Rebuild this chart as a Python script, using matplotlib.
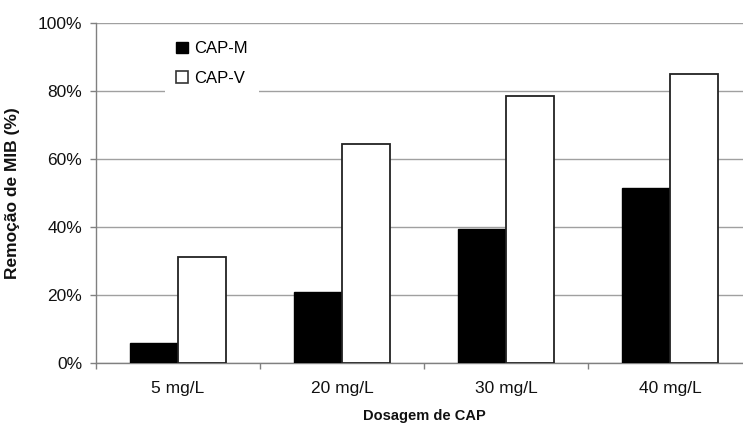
import matplotlib
matplotlib.use("Agg")
import matplotlib.pyplot as plt
from matplotlib.patches import Patch
import numpy as np

plt.rcParams['font.family'] = ['Liberation Sans', 'DejaVu Sans']

doses = ['5 mg/L', '20 mg/L', '30 mg/L', '40 mg/L']
cap_m = [5.7, 20.7, 39.4, 51.3]
cap_v = [31.0, 64.4, 78.6, 85.0]
series = ['CAP-M', 'CAP-V']
yticks = [0, 20, 40, 60, 80, 100]

fig = plt.figure(figsize=(7.43, 4.23), dpi=100)
# right edge of the plot runs just past the picture, as in the original
ax = fig.add_axes([96/743, 1 - 362.7/423, 656/743, 339.7/423])

x = np.arange(len(doses))
w = 0.293
ax.bar(x - w/2, cap_m, w, color='black', edgecolor='black', linewidth=1.0, zorder=3)
ax.bar(x + w/2, cap_v, w, color='white', edgecolor='#222222', linewidth=1.3, zorder=3)

ax.set_xlim(-0.5, len(doses) - 0.5)
ax.set_ylim(0, 100)
ax.set_yticks(yticks)
ax.set_yticklabels([f'{t}%' for t in yticks])
ax.yaxis.grid(True, color='#a0a0a0', linewidth=1.0, zorder=0)
ax.set_axisbelow(True)

ax.set_xticks(x)
ax.set_xticklabels(doses)
ax.set_xticks(np.arange(len(doses) + 1) - 0.5, minor=True)
ax.tick_params(axis='x', which='major', length=0, pad=13, labelsize=12.5, colors='#111111')
ax.tick_params(axis='x', which='minor', length=4, width=1, color='#808080', direction='out')
ax.tick_params(axis='y', length=4, width=1, color='#808080', pad=6, labelsize=12.5, labelcolor='#111111')

for s in ['top', 'right']:
    ax.spines[s].set_visible(False)
for s in ['left', 'bottom']:
    ax.spines[s].set_color('#808080')
    ax.spines[s].set_linewidth(1.0)

ax.set_ylabel('Remoção de MIB (%)', fontsize=12.5, fontweight='bold', color='#111111')
ax.yaxis.set_label_coords(-0.116, 0.5)
ax.set_xlabel('Dosagem de CAP', fontsize=10.5, fontweight='bold', color='#111111')
ax.xaxis.set_label_coords(0.5, -0.157)
ax.xaxis.label.set_va('center')

handles = [Patch(facecolor='black', edgecolor='black'),
           Patch(facecolor='white', edgecolor='#333333', linewidth=1.2)]
leg = ax.legend(handles, series, loc='upper left',
                bbox_to_anchor=((165 - 96) / 656, (362.7 - 30) / 339.7),
                frameon=True, fancybox=False, framealpha=1, edgecolor='none',
                fontsize=12, handlelength=0.7, handleheight=0.7,
                handletextpad=0.35, labelspacing=0.86, borderpad=0.68,
                borderaxespad=0)
leg.set_zorder(5)

fig.savefig('out.png', dpi=100)
